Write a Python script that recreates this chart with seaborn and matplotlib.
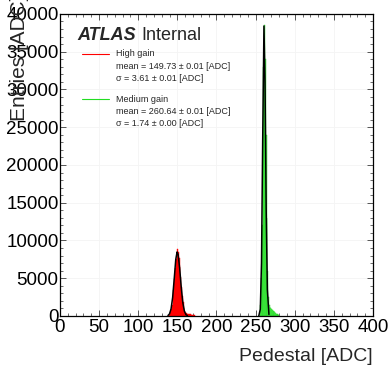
import numpy as np
import pandas as pd
import seaborn as sns
import matplotlib
matplotlib.use("Agg")
import matplotlib.pyplot as plt
from matplotlib.ticker import MultipleLocator

# ---- data ----
high_bins = [138, 139, 140, 141, 142, 143, 144, 145, 146, 147, 148, 149, 150, 151, 152,
             153, 154, 155, 156, 157, 158, 159, 160, 161, 162, 163, 164, 165, 166, 167,
             168, 169, 170, 171]
high_counts = [50, 120, 250, 500, 900, 1500, 2400, 3500, 4900, 6300, 7600, 8500, 8850, 8500, 7700,
               6500, 5200, 3900, 2700, 1800, 1100, 700, 450, 350, 300, 280, 260, 240, 220, 200,
               180, 160, 140, 120]
med_bins = [254, 255, 256, 257, 258, 259, 260, 261, 262, 263, 264, 265, 266, 267, 268,
            269, 270, 271, 272, 273, 274, 275, 276, 277, 278, 279]
med_counts = [50, 300, 1500, 5000, 12000, 22000, 33000, 38500, 34000, 24000, 13000, 6000, 2500, 1500, 1200,
              1000, 900, 800, 700, 600, 500, 400, 300, 250, 200, 150]

high_fit_x = [138, 140, 142, 144, 146, 148, 149.7, 151, 153, 155, 157, 159, 161, 163]
high_fit_y = [60, 280, 950, 2450, 4900, 7500, 8480, 8150, 6300, 3800, 1750, 650, 180, 40]
med_fit_x = [254, 256, 257.5, 259, 260.64, 262, 263.5, 265, 267]
med_fit_y = [0, 900, 7000, 23000, 38400, 31000, 14000, 3500, 200]

labels = ["High gain", "Medium gain"]
means = ["149.73 \u00b1 0.01", "260.64 \u00b1 0.01"]
sigmas = ["3.61 \u00b1 0.01", "1.74 \u00b1 0.00"]

sns.set_theme(style="white")
plt.rcParams['font.family'] = ['Liberation Sans', 'DejaVu Sans']

fig = plt.figure(figsize=(3.89, 3.67), dpi=100)
ax = fig.add_axes([0.154, 0.139, 0.805, 0.823])

df_h = pd.DataFrame({"x": np.array(high_bins) + 0.5, "w": high_counts})
df_m = pd.DataFrame({"x": np.array(med_bins) + 0.5, "w": med_counts})

sns.histplot(data=df_h, x="x", weights="w", binwidth=1, binrange=(138, 172),
             element="bars", color="#ff0000", edgecolor="#ff0000", alpha=1, linewidth=0.3, ax=ax)
sns.histplot(data=df_m, x="x", weights="w", binwidth=1, binrange=(254, 280),
             element="bars", color="#55ff55", edgecolor="#22cc22", alpha=1, linewidth=0.3, ax=ax)
sns.lineplot(x=high_fit_x, y=high_fit_y, color="black", lw=1.1, ax=ax)
sns.lineplot(x=med_fit_x, y=med_fit_y, color="black", lw=1.1, ax=ax)

ax.set_xlim(0, 400)
ax.set_ylim(0, 40000)
ax.xaxis.set_major_locator(MultipleLocator(50))
ax.xaxis.set_minor_locator(MultipleLocator(10))
ax.yaxis.set_major_locator(MultipleLocator(5000))
ax.yaxis.set_minor_locator(MultipleLocator(1000))
ax.tick_params(which="both", direction="in", top=True, right=True, bottom=True, left=True,
               labelsize=13.5, colors="black")
ax.tick_params(which="major", length=4.5, width=0.7, color="#555555")
ax.tick_params(which="minor", length=2.3, width=0.6, color="#555555")
ax.tick_params(axis="x", pad=2)
ax.tick_params(axis="y", pad=1)
for s in ax.spines.values():
    s.set_color("black")
    s.set_linewidth(0.9)
ax.grid(True, which="major", color="#f4f4f4", lw=0.6)
ax.set_axisbelow(True)

ax.set_xlabel("Pedestal [ADC]", fontsize=14, loc="right", labelpad=9)
ax.set_ylabel("")
fig.text(20 / 389, 1 + 5 / 367, "Entries [ADC]", fontsize=15, rotation=90,
         ha="center", va="top")

# ATLAS label
fig.text(77 / 389, 1 - 36 / 367, "ATLAS", fontsize=13, fontweight="bold", fontstyle="italic",
         va="center", ha="left")
fig.text(141 / 389, 1 - 36 / 367, "Internal", fontsize=13, va="center", ha="left")

# legend entries
colors = ["#ff0000", "#22dd22"]
ys = [54, 99]
for lab, m, s, c, y0 in zip(labels, means, sigmas, colors, ys):
    yy = 1 - y0 / 367
    fig.add_artist(plt.Line2D([82 / 389, 109 / 389], [yy, yy], color=c, lw=0.8))
    fig.text(116 / 389, yy, lab, fontsize=6.5, va="center", ha="left")
    fig.text(116 / 389, 1 - (y0 + 12.5) / 367, "mean = " + m + " [ADC]", fontsize=6.5, va="center", ha="left")
    fig.text(116 / 389, 1 - (y0 + 24.5) / 367, "\u03c3 = " + s + " [ADC]", fontsize=6.5, va="center", ha="left")

fig.savefig("out.png", dpi=100)
